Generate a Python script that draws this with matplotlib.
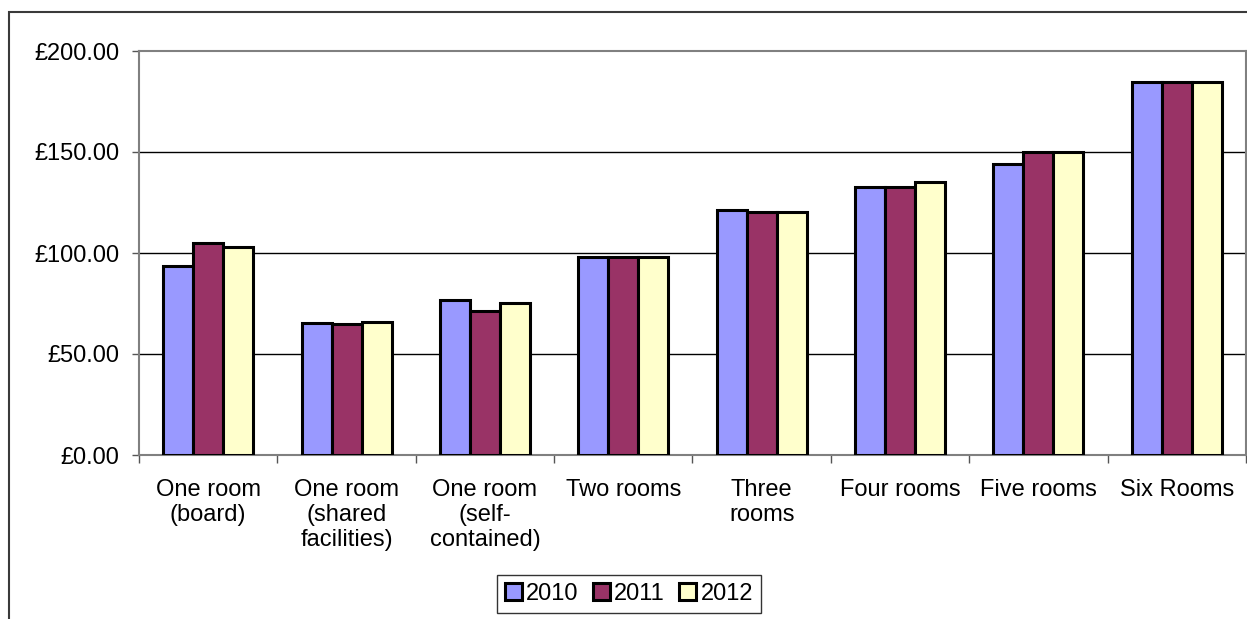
import matplotlib.pyplot as plt
import matplotlib.patches as mpatches
import numpy as np

categories = [
    "One room\n(board)",
    "One room\n(shared\nfacilities)",
    "One room\n(self-\ncontained)",
    "Two rooms",
    "Three\nrooms",
    "Four rooms",
    "Five rooms",
    "Six Rooms",
]
years = ["2010", "2011", "2012"]
rent_2010 = [93.5, 65.2, 76.7, 98.0, 121.1, 132.5, 144.2, 184.5]
rent_2011 = [104.8, 64.7, 71.4, 98.0, 120.5, 132.5, 150.0, 184.5]
rent_2012 = [102.8, 65.8, 75.1, 98.0, 120.5, 135.3, 150.0, 184.5]
yticks = [0, 50, 100, 150, 200]

colors = ["#9999ff", "#993366", "#ffffcc"]

plt.rcParams["font.family"] = ["Liberation Sans", "DejaVu Sans"]
plt.rcParams["font.size"] = 17

fig = plt.figure(figsize=(12.47, 6.19), dpi=100)
ax = fig.add_axes([139 / 1247, 1 - 455 / 619, 1107 / 1247, 404 / 619])

# outer chart border (top and left visible)
fig.patches.append(mpatches.Rectangle(
    (9 / 1247, -0.1), 1.2, 1 - 12 / 619 + 0.1, transform=fig.transFigure,
    fill=False, edgecolor="#3a3a3a", linewidth=1.5, zorder=0))

x = np.arange(len(categories))
width = 0.217
series = [rent_2010, rent_2011, rent_2012]
for i, (vals, c, yr) in enumerate(zip(series, colors, years)):
    ax.bar(x + (i - 1) * width, vals, width, color=c, edgecolor="black",
           linewidth=2.2, label=yr, zorder=3)

ax.set_xlim(-0.5, len(categories) - 0.5)
ax.set_ylim(0, 200)
ax.set_yticks(yticks)
ax.set_yticklabels([f"£{v:.2f}" for v in yticks])
ax.tick_params(axis="y", length=5, width=1, color="#555555", pad=9)

# tick marks between groups, labels at group centres
ax.set_xticks(np.arange(len(categories) + 1) - 0.5)
ax.set_xticklabels([])
ax.tick_params(axis="x", which="major", length=6, width=1, color="#555555")
ax.set_xticks(x, minor=True)
ax.set_xticklabels(categories, minor=True, linespacing=1.2, va="top")
ax.tick_params(axis="x", which="minor", length=0, pad=17)

for y in yticks[1:-1]:
    ax.axhline(y, color="black", linewidth=1, zorder=1)

for side in ["top", "right", "left", "bottom"]:
    ax.spines[side].set_color("#808080")
    ax.spines[side].set_linewidth(1.5)

leg = fig.legend(loc="center", bbox_to_anchor=(629 / 1247, 1 - 594 / 619),
                 ncol=3, frameon=True, fancybox=False, handlelength=0.7,
                 handleheight=0.7, handletextpad=0.2, columnspacing=0.6,
                 borderpad=0.35, fontsize=17)
leg.get_frame().set_edgecolor("black")
leg.get_frame().set_linewidth(1)

fig.savefig("out.png", dpi=100)
